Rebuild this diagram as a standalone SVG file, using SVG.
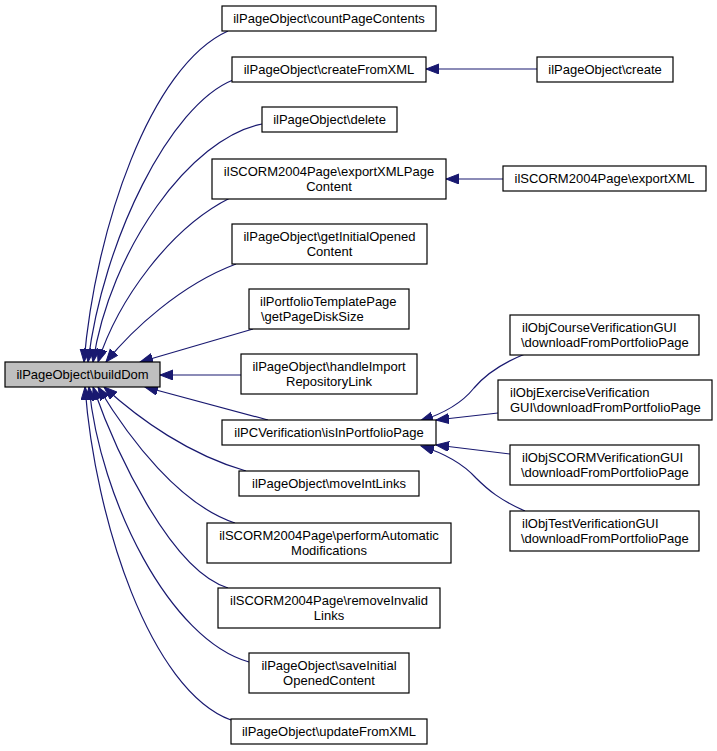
<svg xmlns="http://www.w3.org/2000/svg" width="717" height="751" viewBox="0 0 717 751">
<style>
.n rect{fill:#ffffff;stroke:#000000;stroke-width:1.2}
.n text{font-family:"Liberation Sans",Arial,sans-serif;font-size:13px;fill:#000000}
.c{text-anchor:middle}
.e path{fill:none;stroke:#191970;stroke-width:1.2;marker-end:url(#ah)}
</style>
<defs>
<marker id="ah" markerUnits="userSpaceOnUse" markerWidth="14" markerHeight="11" refX="13" refY="5" orient="auto">
<path d="M0,0 L13,5 L0,10 z" fill="#191970" stroke="#191970" stroke-width="1"/>
</marker>
</defs>
<rect width="717" height="751" fill="#ffffff"/>
<g class="e" id="edges">
<path d="M228,31 C150,66 95,230 84,362"/>
<path d="M233,80 C170,105 103,240 88,362"/>
<path d="M262,124 C190,138 110,250 93,362"/>
<path d="M230,198 C170,228 118,300 98,362"/>
<path d="M236,264 C180,285 132,330 106,362"/>
<path d="M253,329 L140,362"/>
<path d="M241,375 L160,375"/>
<path d="M268,420 L145,387"/>
<path d="M246,471 C190,455 140,420 104,387"/>
<path d="M235,523 C180,505 130,440 98,387"/>
<path d="M228,588 C170,570 115,450 93,387"/>
<path d="M249,662 C170,640 100,500 89,387"/>
<path d="M231,720 C150,690 95,520 85,387"/>
<path d="M537,69 L426,69"/>
<path d="M503,179 L446,179"/>
<path d="M525,354 C500,364 485,375 474,388 C462,403 446,413 420,421"/>
<path d="M498,413 L436,420"/>
<path d="M510,454 L436,445"/>
<path d="M525,511 C500,500 488,490 476,478 C465,466 450,455 421,446"/>
</g>
<g class="n" id="buildDom"><rect x="5" y="362" width="155" height="25" style="fill:#bfbfbf"/><text class="c" x="82.5" y="378.5">ilPageObject\buildDom</text></g>
<g class="n" id="countPageContents"><rect x="222" y="6" width="214" height="25"/><text class="c" x="329" y="22.5">ilPageObject\countPageContents</text></g>
<g class="n" id="createFromXML"><rect x="232" y="57" width="194" height="25"/><text class="c" x="329" y="73.5">ilPageObject\createFromXML</text></g>
<g class="n" id="delete"><rect x="262" y="107" width="135" height="25"/><text class="c" x="329.5" y="123.5">ilPageObject\delete</text></g>
<g class="n" id="exportXMLPageContent"><rect x="212" y="159" width="234" height="40"/><text class="c" x="329" y="175.5">ilSCORM2004Page\exportXMLPage</text><text class="c" x="329" y="190.5">Content</text></g>
<g class="n" id="getInitialOpenedContent"><rect x="232" y="224" width="195" height="40"/><text class="c" x="329.5" y="240.5">ilPageObject\getInitialOpened</text><text class="c" x="329.5" y="255.5">Content</text></g>
<g class="n" id="getPageDiskSize"><rect x="249" y="289" width="160" height="40"/><text x="260" y="305.5">ilPortfolioTemplatePage</text><text x="261" y="320.5">\getPageDiskSize</text></g>
<g class="n" id="handleImportRepositoryLink"><rect x="241" y="354" width="176" height="40"/><text class="c" x="329" y="370.5">ilPageObject\handleImport</text><text class="c" x="329" y="385.5">RepositoryLink</text></g>
<g class="n" id="isInPortfolioPage"><rect x="222" y="420" width="214" height="25"/><text class="c" x="329" y="436.5">ilPCVerification\isInPortfolioPage</text></g>
<g class="n" id="moveIntLinks"><rect x="239" y="471" width="180" height="25"/><text class="c" x="329" y="487.5">ilPageObject\moveIntLinks</text></g>
<g class="n" id="performAutomaticModifications"><rect x="207" y="523" width="244" height="40"/><text class="c" x="329" y="539.5">ilSCORM2004Page\performAutomatic</text><text class="c" x="329" y="554.5">Modifications</text></g>
<g class="n" id="removeInvalidLinks"><rect x="218" y="588" width="222" height="40"/><text class="c" x="329" y="604.5">ilSCORM2004Page\removeInvalid</text><text class="c" x="329" y="619.5">Links</text></g>
<g class="n" id="saveInitialOpenedContent"><rect x="249" y="653" width="160" height="40"/><text class="c" x="329" y="669.5">ilPageObject\saveInitial</text><text class="c" x="329" y="684.5">OpenedContent</text></g>
<g class="n" id="updateFromXML"><rect x="231" y="719" width="196" height="25"/><text class="c" x="329" y="735.5">ilPageObject\updateFromXML</text></g>
<g class="n" id="create"><rect x="537" y="57" width="136" height="25"/><text class="c" x="605" y="73.5">ilPageObject\create</text></g>
<g class="n" id="exportXML"><rect x="503" y="166" width="203" height="25"/><text class="c" x="604.5" y="182.5">ilSCORM2004Page\exportXML</text></g>
<g class="n" id="courseVerif"><rect x="510" y="315" width="189" height="40"/><text x="522" y="331.5">ilObjCourseVerificationGUI</text><text x="521" y="346.5">\downloadFromPortfolioPage</text></g>
<g class="n" id="exerciseVerif"><rect x="498" y="380" width="214" height="40"/><text x="510" y="396.5">ilObjExerciseVerification</text><text x="510" y="411.5">GUI\downloadFromPortfolioPage</text></g>
<g class="n" id="scormVerif"><rect x="510" y="445" width="189" height="40"/><text x="522" y="461.5">ilObjSCORMVerificationGUI</text><text x="521" y="476.5">\downloadFromPortfolioPage</text></g>
<g class="n" id="testVerif"><rect x="510" y="511" width="189" height="40"/><text x="522" y="527.5">ilObjTestVerificationGUI</text><text x="521" y="542.5">\downloadFromPortfolioPage</text></g>
</svg>
